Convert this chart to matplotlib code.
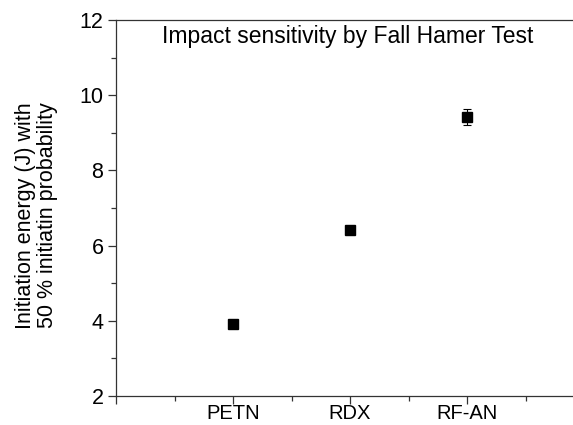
import matplotlib
matplotlib.use('Agg')
import matplotlib.pyplot as plt

# impact sensitivity data
samples = ['PETN', 'RDX', 'RF-AN']
positions = [1, 2, 3]
energy = [3.91, 6.41, 9.42]
energy_err = [0.05, 0.05, 0.2]

plt.rcParams['font.family'] = ['Liberation Sans', 'DejaVu Sans']
plt.rcParams['font.size'] = 15.5

fig = plt.figure(figsize=(5.73, 4.25), dpi=100)
ax = fig.add_axes([116/573, 29/425, 4*117/573, 376/425])

ax.errorbar(positions, energy, yerr=energy_err, fmt='s', color='black',
            markersize=7.5, capsize=3, elinewidth=0.8, capthick=0.8)

ax.set_xlim(0, 4)
ax.set_ylim(2, 12)
ax.set_xticks([0] + positions)
ax.set_xticklabels([''] + samples, fontsize=14.5)
ax.set_xticks([0.5, 1.5, 2.5, 3.5], minor=True)
ax.set_yticks([2, 4, 6, 8, 10, 12])
ax.set_yticks([3, 5, 7, 9, 11], minor=True)

for s in ax.spines.values():
    s.set_linewidth(0.9)
    s.set_color('#333333')
ax.spines['right'].set_visible(False)

ax.tick_params(which='major', direction='out', length=6, width=0.9, color='#333333', pad=3)
ax.tick_params(which='minor', direction='out', length=3.5, width=0.9, color='#333333')
ax.tick_params(axis='x', which='major', pad=0)

ax.set_ylabel('Initiation energy (J) with\n50 % initiatin probability', linespacing=1.05)
ax.yaxis.set_label_coords(-0.124, 0.48)
ax.text(0.496, 0.955, 'Impact sensitivity by Fall Hamer Test', transform=ax.transAxes,
        ha='center', va='center', fontsize=16.5)

fig.savefig('out.png', dpi=100)
